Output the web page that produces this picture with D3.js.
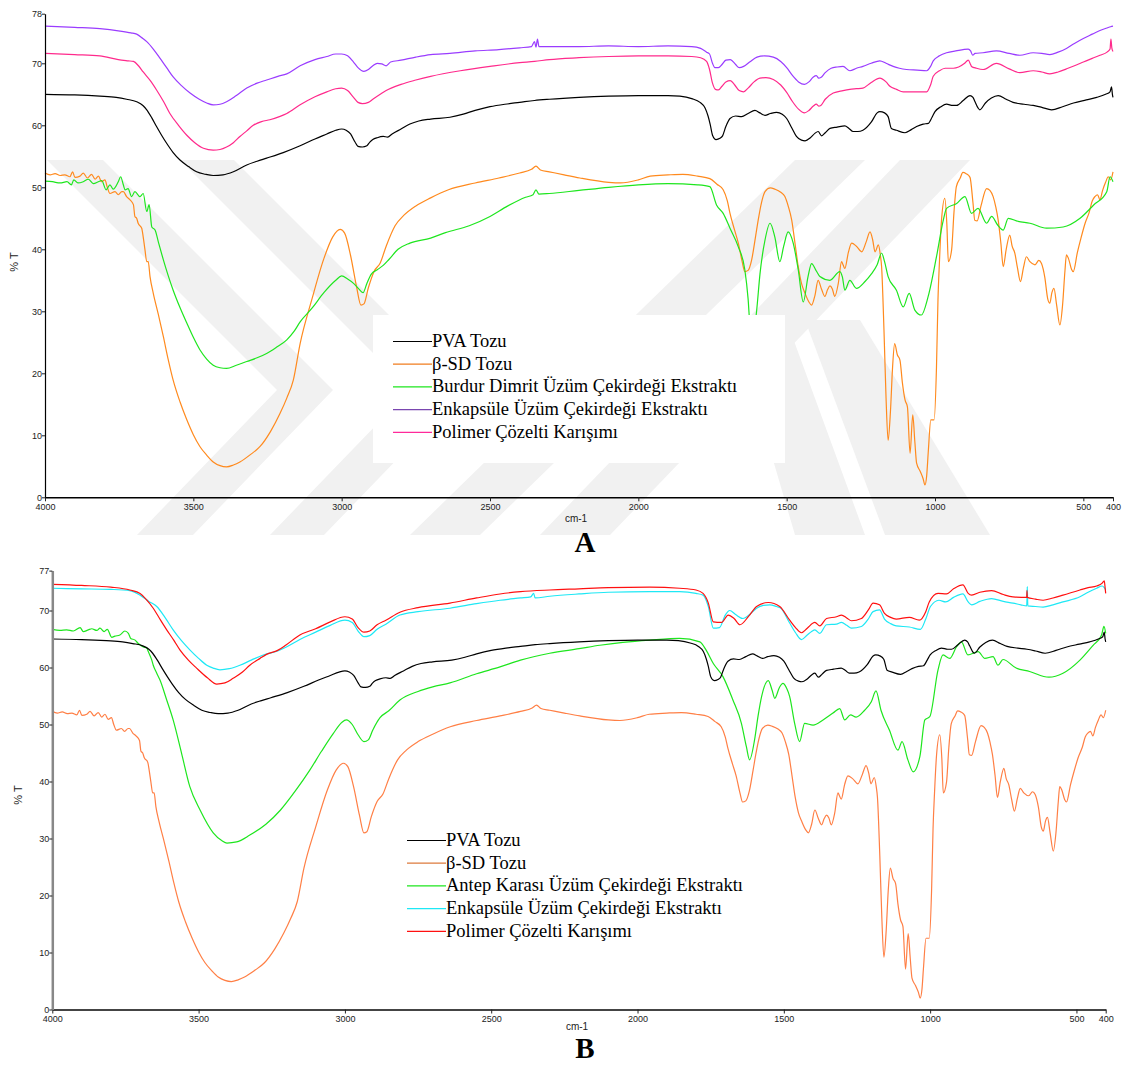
<!DOCTYPE html>
<html>
<head>
<meta charset="utf-8">
<script src="https://cdn.jsdelivr.net/npm/d3@7"></script>
<style>
  body { margin: 0; background: #fff; }
</style>
</head>
<body>
<svg id="chart" width="1125" height="1066"></svg>
<script>
// ---- data: [wavenumber cm-1, %T] ----
const wavenumberTicks = [4000, 3500, 3000, 2500, 2000, 1500, 1000, 500, 400];
const yTicksA = [0, 10, 20, 30, 40, 50, 60, 70, 78];
const yTicksB = [0, 10, 20, 30, 40, 50, 60, 70, 77];

const legendA = ["PVA Tozu", "β-SD Tozu", "Burdur Dimrit Üzüm Çekirdeği Ekstraktı", "Enkapsüle Üzüm Çekirdeği Ekstraktı", "Polimer Çözelti Karışımı"];
const legendB = ["PVA Tozu", "β-SD Tozu", "Antep Karası Üzüm Çekirdeği Ekstraktı", "Enkapsüle Üzüm Çekirdeği Ekstraktı", "Polimer Çözelti Karışımı"];

const pvaTozu = [[4000,65.0],[3900,64.9],[3815,64.7],[3760,64.5],[3725,64.2],[3691,63.8],[3670,63.2],[3657,62.5],[3640,61.2],[3624,59.8],[3607,58.4],[3590,57.1],[3568,55.6],[3545,54.4],[3515,53.3],[3489,52.5],[3460,52.1],[3433,51.9],[3400,52.0],[3365,52.5],[3320,53.6],[3285,54.2],[3253,54.7],[3197,55.6],[3140,56.7],[3090,57.8],[3050,58.6],[3020,59.2],[3000,59.4],[2985,59.2],[2970,58.6],[2955,57.3],[2945,56.6],[2930,56.5],[2915,56.7],[2905,57.3],[2895,57.7],[2880,58.0],[2860,58.2],[2845,58.1],[2830,58.6],[2800,59.4],[2770,60.2],[2740,60.7],[2700,61.0],[2635,61.3],[2590,61.8],[2550,62.4],[2500,63.0],[2450,63.4],[2400,63.7],[2350,64.0],[2300,64.2],[2200,64.5],[2100,64.7],[2000,64.8],[1900,64.8],[1860,64.7],[1820,64.3],[1792,63.7],[1775,62.8],[1765,61.5],[1758,60.2],[1750,58.4],[1738,57.7],[1725,57.9],[1716,58.3],[1705,59.8],[1691,61.1],[1672,61.5],[1652,61.4],[1630,61.9],[1607,62.4],[1590,62.0],[1573,61.6],[1555,61.9],[1534,62.1],[1515,61.8],[1500,61.1],[1483,59.6],[1467,58.2],[1450,57.6],[1438,57.5],[1420,58.0],[1405,58.7],[1394,59.0],[1382,58.3],[1370,58.8],[1354,59.5],[1330,59.7],[1304,59.9],[1290,59.5],[1276,59.0],[1260,59.0],[1243,59.2],[1215,60.5],[1195,62.0],[1186,62.2],[1170,62.0],[1158,61.4],[1147,59.5],[1130,59.2],[1101,58.8],[1080,59.3],[1062,59.8],[1040,60.2],[1023,60.3],[1010,61.3],[1000,62.2],[980,63.0],[961,63.4],[940,63.2],[927,63.2],[905,64.0],[882,64.8],[872,64.5],[865,63.8],[855,62.8],[849,62.5],[830,63.6],[810,64.4],[787,64.8],[760,64.2],[737,63.7],[700,63.4],[669,63.2],[640,62.9],[607,62.5],[570,63.0],[533,63.6],[490,64.1],[455,64.5],[425,65.0],[410,65.4],[405,66.2],[402,65.0],[400,64.5]];

const betaSdTozu = [[4000,52.3],[3983,52.0],[3966,52.2],[3949,51.9],[3933,52.0],[3916,51.7],[3907,52.5],[3899,51.6],[3882,51.8],[3871,52.3],[3857,51.5],[3843,52.1],[3831,51.3],[3820,51.8],[3809,50.9],[3798,51.2],[3790,50.0],[3781,49.0],[3764,49.3],[3753,48.8],[3741,49.3],[3736,49.3],[3725,48.5],[3714,48.0],[3702,47.2],[3697,45.3],[3691,45.0],[3686,44.2],[3674,43.4],[3669,42.0],[3663,39.9],[3657,38.0],[3652,38.0],[3646,35.6],[3635,32.9],[3618,29.5],[3601,25.9],[3585,22.3],[3568,18.9],[3545,15.4],[3522,12.5],[3500,10.1],[3478,8.2],[3455,6.8],[3433,5.7],[3410,5.1],[3388,4.9],[3365,5.2],[3343,5.7],[3310,6.8],[3275,8.2],[3240,10.6],[3208,13.5],[3185,16.0],[3163,18.9],[3140,24.8],[3100,32.0],[3060,38.5],[3030,42.0],[3005,43.2],[2990,42.6],[2970,39.0],[2950,34.0],[2935,31.0],[2925,31.2],[2910,33.8],[2890,36.5],[2870,37.8],[2850,40.5],[2820,43.8],[2790,45.5],[2750,47.0],[2700,48.3],[2640,49.6],[2550,50.7],[2470,51.5],[2400,52.3],[2360,52.9],[2345,53.4],[2330,52.8],[2300,52.5],[2250,52.0],[2197,51.5],[2100,50.8],[2060,50.7],[2000,51.2],[1960,51.8],[1900,52.0],[1850,52.1],[1800,51.8],[1759,51.4],[1735,50.5],[1714,49.6],[1700,47.8],[1691,45.8],[1675,43.0],[1663,41.0],[1650,38.0],[1641,36.4],[1630,36.6],[1618,38.3],[1605,42.0],[1596,44.7],[1585,47.5],[1573,49.3],[1555,49.9],[1540,49.7],[1520,49.2],[1506,48.5],[1495,47.0],[1483,44.7],[1472,41.0],[1461,37.2],[1450,34.5],[1438,32.9],[1425,31.5],[1416,31.0],[1405,32.5],[1394,35.0],[1382,33.5],[1371,32.4],[1362,33.5],[1354,34.1],[1346,33.6],[1338,32.4],[1326,34.5],[1315,38.0],[1310,37.5],[1304,36.9],[1292,39.5],[1281,41.0],[1265,40.5],[1247,39.6],[1232,41.2],[1219,42.8],[1210,41.5],[1202,39.6],[1191,40.7],[1184,39.0],[1180,37.2],[1172,27.0],[1165,16.0],[1158,9.2],[1150,14.0],[1143,21.0],[1136,24.8],[1127,23.0],[1118,22.1],[1110,18.5],[1101,15.7],[1093,14.6],[1084,7.1],[1075,13.3],[1068,9.0],[1062,5.5],[1050,4.2],[1040,3.0],[1034,2.0],[1028,3.5],[1023,7.1],[1014,12.5],[1003,12.5],[995,21.0],[990,31.8],[985,38.0],[978,44.7],[967,48.2],[960,44.0],[955,38.0],[944,39.9],[936,46.0],[928,50.1],[915,51.5],[906,52.4],[895,52.2],[882,51.6],[872,47.5],[866,44.7],[858,44.6],[845,47.0],[826,49.8],[815,49.5],[804,48.5],[795,46.8],[787,44.7],[778,41.0],[770,37.2],[760,40.0],[748,42.3],[740,40.5],[731,39.4],[722,37.0],[712,34.8],[702,37.0],[692,38.8],[680,38.0],[663,37.5],[650,38.2],[641,37.7],[630,35.5],[620,32.0],[613,31.3],[606,33.0],[599,33.7],[590,31.0],[579,27.8],[570,31.0],[562,36.5],[557,39.1],[550,38.5],[540,36.8],[534,36.4],[520,39.5],[508,41.8],[494,44.2],[480,46.0],[470,47.8],[461,48.5],[452,48.8],[444,48.0],[435,49.5],[425,50.8],[416,51.7],[408,51.2],[400,52.5]];

const burdurEkstrakt = [[4000,51.0],[3975,50.9],[3949,50.7],[3926,50.9],[3911,50.4],[3903,51.2],[3889,50.7],[3871,50.9],[3854,51.3],[3837,50.6],[3820,50.9],[3809,51.1],[3794,49.6],[3781,50.4],[3770,49.7],[3753,50.9],[3745,51.7],[3736,50.4],[3730,49.6],[3720,49.8],[3708,48.5],[3697,49.3],[3680,48.5],[3669,49.0],[3657,46.1],[3649,47.2],[3640,43.6],[3629,43.1],[3618,41.2],[3601,38.3],[3585,35.8],[3568,33.4],[3545,30.6],[3522,28.1],[3500,25.8],[3478,23.8],[3455,22.3],[3433,21.3],[3410,20.9],[3388,20.8],[3355,21.3],[3320,21.9],[3285,22.5],[3253,23.2],[3220,24.2],[3185,25.4],[3160,26.8],[3140,28.3],[3100,30.5],[3060,33.0],[3020,35.0],[3000,35.7],[2980,35.2],[2960,34.5],[2940,33.5],[2928,33.0],[2915,34.5],[2900,36.0],[2880,36.7],[2860,37.4],[2840,38.4],[2810,40.0],[2770,41.0],[2700,41.8],[2650,42.7],[2570,43.8],[2500,45.3],[2440,47.0],[2380,48.4],[2355,48.8],[2345,49.6],[2335,48.9],[2300,49.0],[2200,49.5],[2100,50.0],[2000,50.4],[1900,50.6],[1800,50.4],[1759,50.1],[1736,47.1],[1714,45.8],[1691,43.4],[1663,40.4],[1641,36.7],[1630,32.0],[1624,28.0],[1615,26.5],[1605,28.5],[1601,30.2],[1590,36.0],[1573,41.5],[1556,44.2],[1540,42.0],[1523,38.0],[1510,40.5],[1495,42.8],[1478,41.0],[1461,36.7],[1444,31.5],[1428,35.6],[1416,37.7],[1400,36.5],[1388,35.6],[1354,35.0],[1321,36.4],[1312,35.5],[1304,33.4],[1287,35.0],[1265,33.7],[1236,34.8],[1215,36.0],[1195,37.5],[1180,39.4],[1170,38.0],[1158,35.6],[1130,33.4],[1107,30.7],[1087,32.9],[1068,30.2],[1046,29.4],[1023,32.4],[995,38.8],[972,44.7],[961,46.6],[927,47.4],[899,48.5],[877,45.8],[855,46.6],[826,44.2],[809,45.3],[790,44.0],[770,43.1],[753,45.0],[720,44.5],[680,44.2],[624,43.4],[568,43.6],[511,45.0],[466,47.1],[421,49.3],[410,51.7],[400,50.9]];

const enkapsuleA = [[4000,76.0],[3900,75.8],[3815,75.6],[3747,75.2],[3710,74.9],[3691,74.7],[3670,74.0],[3657,73.5],[3635,72.3],[3612,70.8],[3590,69.3],[3568,67.8],[3540,66.4],[3511,65.2],[3480,64.2],[3455,63.6],[3433,63.3],[3410,63.4],[3388,63.8],[3355,64.8],[3320,66.0],[3285,66.8],[3253,67.3],[3215,67.9],[3185,68.3],[3140,69.6],[3090,70.6],[3050,71.1],[3020,71.5],[3000,71.5],[2980,71.2],[2960,70.2],[2945,69.3],[2925,68.7],[2910,69.0],[2895,69.6],[2880,70.0],[2865,69.9],[2850,69.6],[2835,70.2],[2800,70.5],[2750,71.0],[2700,71.4],[2635,71.6],[2550,72.0],[2470,72.2],[2400,72.5],[2360,72.7],[2350,73.5],[2345,72.6],[2340,73.9],[2335,72.7],[2300,72.7],[2200,72.7],[2100,72.8],[2000,72.7],[1900,72.8],[1820,72.7],[1790,72.4],[1770,71.8],[1760,71.5],[1750,70.0],[1742,69.3],[1730,69.3],[1718,69.8],[1705,70.5],[1690,70.6],[1672,69.8],[1660,69.3],[1645,69.5],[1625,70.2],[1600,71.0],[1575,71.2],[1545,71.0],[1520,70.3],[1500,69.3],[1480,68.0],[1460,67.0],[1440,66.6],[1425,67.0],[1410,67.8],[1400,68.0],[1392,67.6],[1385,67.7],[1370,68.5],[1350,69.2],[1330,69.4],[1310,69.5],[1287,68.8],[1265,69.2],[1243,69.5],[1215,70.0],[1186,70.4],[1165,70.0],[1141,69.5],[1120,69.2],[1096,69.0],[1060,68.9],[1028,68.8],[1015,69.5],[1006,70.4],[985,71.2],[961,71.7],[930,72.0],[888,72.3],[880,72.0],[873,71.3],[865,71.6],[838,71.7],[793,72.0],[750,71.6],[714,71.3],[669,71.7],[640,71.6],[613,71.4],[585,71.8],[557,72.4],[530,73.2],[500,74.0],[470,74.7],[444,75.3],[420,75.7],[408,75.9],[400,76.0]];

const polimerA = [[4000,71.6],[3900,71.4],[3815,71.2],[3753,70.6],[3720,70.4],[3702,70.3],[3685,69.6],[3669,68.6],[3645,67.2],[3624,65.7],[3600,63.8],[3579,61.9],[3550,60.0],[3522,58.4],[3495,57.2],[3466,56.3],[3433,56.0],[3410,56.1],[3388,56.5],[3365,57.2],[3343,58.2],[3320,59.1],[3298,60.0],[3270,60.6],[3242,60.9],[3210,61.4],[3185,61.9],[3140,63.3],[3090,64.6],[3050,65.4],[3020,65.9],[3000,66.0],[2980,65.6],[2960,64.5],[2945,63.7],[2930,63.5],[2910,63.7],[2895,64.2],[2870,65.0],[2850,65.6],[2800,66.6],[2750,67.3],[2700,67.9],[2600,68.8],[2500,69.5],[2400,70.1],[2350,70.3],[2300,70.6],[2200,70.9],[2100,71.1],[2000,71.2],[1900,71.2],[1820,71.1],[1790,70.9],[1770,70.3],[1760,69.0],[1750,66.8],[1740,65.8],[1730,65.7],[1718,66.3],[1705,67.0],[1690,67.2],[1675,66.5],[1660,65.6],[1645,65.4],[1630,66.0],[1610,67.0],[1590,67.6],[1570,67.7],[1545,67.4],[1520,66.5],[1500,65.3],[1480,63.8],[1460,62.6],[1440,62.0],[1425,62.4],[1410,63.1],[1400,63.4],[1392,63.1],[1385,63.2],[1370,64.2],[1343,65.2],[1310,65.6],[1287,65.8],[1265,65.9],[1243,66.0],[1215,66.9],[1186,67.6],[1165,67.0],[1152,66.3],[1130,65.8],[1107,65.4],[1062,65.4],[1028,65.4],[1015,66.5],[1006,67.9],[985,68.8],[966,69.2],[938,69.2],[900,70.0],[888,70.5],[880,69.8],[877,69.5],[860,69.2],[838,69.0],[793,70.0],[750,69.1],[714,68.5],[669,68.8],[640,68.6],[613,68.3],[585,68.6],[557,69.1],[530,69.6],[500,70.2],[470,70.8],[444,71.3],[420,71.8],[410,72.3],[407,73.9],[404,72.5],[400,71.9]];

const antepEkstrakt = [[4000,66.7],[3974,66.5],[3951,66.6],[3928,66.4],[3905,67.0],[3894,66.3],[3877,66.6],[3865,66.8],[3848,66.5],[3837,66.9],[3823,66.3],[3812,66.7],[3797,65.3],[3786,65.5],[3769,65.7],[3752,66.4],[3740,66.0],[3732,65.1],[3717,64.8],[3706,64.2],[3689,63.6],[3677,63.4],[3672,62.8],[3660,61.3],[3655,60.4],[3643,59.0],[3632,57.8],[3609,54.3],[3587,50.8],[3558,44.9],[3530,39.1],[3495,35.0],[3450,31.0],[3420,29.6],[3403,29.2],[3370,29.4],[3325,30.6],[3270,32.5],[3220,35.0],[3170,38.3],[3120,42.0],[3080,45.3],[3040,48.4],[3010,50.4],[2995,50.8],[2975,50.0],[2955,48.2],[2935,47.0],[2920,47.3],[2905,49.0],[2880,51.2],[2850,52.4],[2812,54.3],[2750,55.8],[2700,56.6],[2641,57.3],[2550,58.9],[2470,60.1],[2400,61.3],[2300,62.5],[2200,63.3],[2129,63.9],[2050,64.4],[1958,64.8],[1856,65.1],[1787,64.5],[1765,63.0],[1741,60.7],[1708,58.4],[1674,54.3],[1645,50.2],[1628,46.1],[1617,43.8],[1600,47.3],[1588,51.5],[1576,54.9],[1553,57.7],[1540,56.0],[1531,54.6],[1515,56.5],[1503,57.2],[1490,56.3],[1480,54.9],[1463,50.2],[1446,47.0],[1429,50.2],[1400,49.9],[1366,50.8],[1332,52.0],[1309,52.8],[1292,50.8],[1272,51.7],[1253,51.3],[1224,52.5],[1201,54.0],[1185,55.9],[1168,52.5],[1139,49.0],[1110,45.5],[1096,47.0],[1076,43.8],[1058,41.7],[1035,44.4],[1018,50.8],[1001,51.4],[973,59.6],[956,62.2],[933,61.6],[910,63.6],[893,64.5],[871,62.2],[836,62.8],[813,61.6],[785,61.9],[768,60.4],[751,61.4],[706,59.9],[660,59.3],[594,58.3],[546,59.0],[488,61.3],[443,63.9],[414,65.7],[406,67.2],[400,66.0]];

const enkapsuleB = [[4000,73.9],[3900,73.8],[3800,73.7],[3735,73.5],[3700,72.7],[3670,71.6],[3643,70.7],[3615,68.8],[3587,66.6],[3560,64.8],[3530,63.1],[3500,61.6],[3472,60.4],[3450,59.9],[3427,59.6],[3395,59.8],[3359,60.4],[3320,61.3],[3279,62.2],[3230,62.9],[3200,63.6],[3154,64.9],[3100,66.2],[3050,67.4],[3000,68.3],[2975,67.9],[2955,66.4],[2935,65.4],[2915,65.6],[2890,66.7],[2860,67.6],[2812,69.2],[2750,69.8],[2641,70.4],[2550,71.2],[2470,71.8],[2400,72.2],[2365,72.4],[2355,73.0],[2350,72.2],[2300,72.5],[2200,72.9],[2100,73.2],[1958,73.3],[1856,73.3],[1800,73.0],[1776,72.7],[1758,70.7],[1741,66.9],[1720,67.0],[1700,69.2],[1685,70.0],[1665,69.3],[1640,68.6],[1615,69.4],[1593,70.4],[1570,70.9],[1548,71.0],[1525,70.7],[1510,70.4],[1480,67.8],[1460,66.1],[1440,64.9],[1420,65.7],[1405,66.3],[1394,66.6],[1377,66.0],[1354,67.5],[1320,67.6],[1303,67.9],[1285,67.4],[1269,66.9],[1235,67.2],[1210,68.6],[1195,69.8],[1173,70.1],[1156,68.5],[1135,67.7],[1116,67.3],[1071,67.1],[1033,66.7],[1015,68.5],[999,70.7],[970,71.8],[947,71.5],[920,72.3],[888,72.9],[870,71.5],[858,71.0],[830,71.6],[790,72.1],[750,71.6],[717,71.3],[690,71.0],[670,70.8],[669,72.0],[668,74.2],[667,72.0],[666,70.8],[640,70.7],[614,70.6],[580,71.0],[546,71.5],[488,72.4],[460,73.2],[431,73.9],[412,74.3],[405,74.0],[400,73.6]];

const polimerB = [[4000,74.6],[3900,74.4],[3800,74.1],[3735,73.6],[3700,73.0],[3680,72.0],[3655,70.4],[3630,68.3],[3609,66.6],[3585,64.8],[3564,63.1],[3535,61.3],[3507,59.9],[3470,58.2],[3438,57.1],[3410,57.3],[3382,58.1],[3350,59.2],[3325,60.4],[3290,61.6],[3268,62.3],[3230,63.0],[3200,64.0],[3154,65.7],[3100,66.8],[3050,68.0],[3000,68.9],[2975,68.5],[2955,67.0],[2935,66.2],[2915,66.4],[2890,67.5],[2860,68.3],[2812,69.7],[2750,70.5],[2641,71.3],[2550,72.2],[2470,72.9],[2400,73.3],[2300,73.6],[2200,73.8],[2100,74.0],[1958,74.1],[1856,73.9],[1800,73.6],[1776,73.0],[1758,71.3],[1741,68.0],[1713,67.9],[1690,69.2],[1670,68.6],[1650,67.5],[1620,69.0],[1593,70.7],[1553,71.4],[1514,70.7],[1480,68.3],[1460,67.0],[1440,66.1],[1420,66.9],[1394,67.9],[1377,67.3],[1354,68.6],[1320,68.9],[1303,69.2],[1285,68.7],[1269,68.2],[1235,68.6],[1210,70.2],[1195,71.3],[1173,71.0],[1156,69.5],[1135,68.8],[1116,68.5],[1071,68.8],[1037,68.3],[1015,69.8],[1003,71.5],[973,73.0],[944,72.9],[920,73.8],[888,74.5],[870,73.0],[858,72.7],[830,73.2],[790,73.5],[750,72.8],[717,72.4],[670,72.3],[669,73.5],[668,72.3],[640,72.0],[614,71.8],[580,72.2],[546,72.7],[488,73.6],[460,74.0],[431,74.3],[412,74.8],[405,75.2],[402,74.0],[400,73.0]];

// light grey thesis watermark behind panel A (decoration only)
const watermarkBands = [
  [[47,160],[103,160],[333,390],[193,535],[137,535],[277,390]],
  [[180,160],[234,160],[464,390],[324,535],[270,535],[410,390]],
  [[795,160],[865,160],[480,535],[410,535]],
  [[900,160],[970,160],[610,535],[540,535]],
  [[735,330],[790,330],[865,535],[795,535]],
  [[805,320],[860,320],[990,535],[885,535]]
];

// ---- drawing ----
const svg = d3.select("#chart");
const sans = "'Liberation Sans', Arial, sans-serif";
const serif = "'Liberation Serif', 'Times New Roman', serif";

svg.append("g").selectAll("polygon")
  .data(watermarkBands)
  .enter().append("polygon")
  .attr("points", d => d.map(p => p.join(",")).join(" "))
  .attr("fill", "#f1f1f1");

function drawPanel(p) {
  const x = d3.scaleLinear().domain([4000, 400]).range([p.left, p.right]);
  const y = d3.scaleLinear().domain([0, p.yMax]).range([p.bottom, p.top]);
  const g = svg.append("g");

  const line = d3.line()
    .x(d => x(d[0]))
    .y(d => y(d[1]))
    .curve(d3.curveMonotoneX);

  p.series.forEach(s => {
    g.append("path")
      .attr("d", line(s.values))
      .attr("fill", "none")
      .attr("stroke", s.color)
      .attr("stroke-width", 1.2)
      .attr("stroke-linejoin", "round");
  });

  // x axis
  const xAxis = g.append("g")
    .attr("transform", `translate(0,${p.bottom})`)
    .call(d3.axisBottom(x).tickValues(wavenumberTicks).tickSize(4).tickSizeOuter(0).tickFormat(d3.format("d")));
  xAxis.select(".domain").attr("stroke", p.axisColor).attr("stroke-width", p.axisWidth);
  xAxis.selectAll(".tick line").attr("stroke", "#222");
  xAxis.selectAll("text").style("font-family", sans).attr("font-size", 9).attr("fill", "#222").attr("dy", "0.6em");

  // y axis
  const yAxis = g.append("g")
    .attr("transform", `translate(${p.left},0)`)
    .call(d3.axisLeft(y).tickValues(p.yTicks).tickSize(3).tickSizeOuter(0));
  yAxis.select(".domain").attr("stroke", p.yAxisColor).attr("stroke-width", p.yAxisWidth);
  yAxis.selectAll(".tick line").attr("stroke", "#222");
  yAxis.selectAll("text").style("font-family", sans).attr("font-size", 9).attr("fill", "#222").attr("x", -3);

  g.append("text")
    .attr("x", p.cmX)
    .attr("y", p.bottom + p.cmDy)
    .attr("text-anchor", "middle")
    .style("font-family", sans)
    .attr("font-size", 10)
    .attr("fill", "#222")
    .text("cm-1");

  g.append("text")
    .attr("transform", `translate(${p.yLabelX},${p.yLabelY}) rotate(-90)`)
    .attr("text-anchor", "middle")
    .style("font-family", sans)
    .attr("font-size", 11)
    .attr("fill", "#222")
    .text("% T");

  // legend
  const lg = g.append("g");
  if (p.legendBox) {
    lg.append("rect")
      .attr("x", p.legendBox[0]).attr("y", p.legendBox[1])
      .attr("width", p.legendBox[2]).attr("height", p.legendBox[3])
      .attr("fill", "#fff");
  }
  p.legend.forEach((name, i) => {
    const ly = p.legendY + i * 22.7;
    lg.append("line")
      .attr("x1", p.legendX).attr("x2", p.legendX + 39)
      .attr("y1", ly).attr("y2", ly)
      .attr("stroke", p.legendColors[i]).attr("stroke-width", 1.2);
    lg.append("text")
      .attr("x", p.legendX + 39)
      .attr("y", ly + 5.5)
      .style("font-family", serif)
      .attr("font-size", 18.5)
      .attr("fill", "#000")
      .text(name);
  });

  // panel letter
  g.append("text")
    .attr("transform", `translate(585,${p.letterY}) scale(1,1.05)`)
    .attr("text-anchor", "middle")
    .style("font-family", serif)
    .attr("font-weight", "bold")
    .attr("font-size", 29)
    .attr("fill", "#000")
    .text(p.letter);
}

drawPanel({
  left: 45, right: 1113, top: 13.7, bottom: 497.3, yMax: 78, yTicks: yTicksA,
  axisColor: "#000", axisWidth: 1.5, yAxisColor: "#000", yAxisWidth: 1.2,
  yLabelX: 18, yLabelY: 262, cmX: 576, cmDy: 25,
  series: [
    { values: betaSdTozu, color: "#ff8a1e" },
    { values: burdurEkstrakt, color: "#1ee61e" },
    { values: pvaTozu, color: "#000" },
    { values: polimerA, color: "#ff2a8c" },
    { values: enkapsuleA, color: "#9a3cff" }
  ],
  legend: legendA,
  legendColors: ["#000", "#f07d1e", "#1ee61e", "#7a46b0", "#ff2a9a"],
  legendBox: [373, 315, 412, 148],
  legendX: 393, legendY: 341.5,
  letter: "A", letterY: 552
});

drawPanel({
  left: 52.3, right: 1105.7, top: 570.6, bottom: 1009.5, yMax: 77, yTicks: yTicksB,
  axisColor: "#444", axisWidth: 2.2, yAxisColor: "#888", yAxisWidth: 2.5,
  yLabelX: 22, yLabelY: 795, cmX: 577, cmDy: 20,
  series: [
    { values: betaSdTozu, color: "#ff7f45" },
    { values: antepEkstrakt, color: "#1ee61e" },
    { values: pvaTozu, color: "#000" },
    { values: enkapsuleB, color: "#1ee8f5" },
    { values: polimerB, color: "#ff1010" }
  ],
  legend: legendB,
  legendColors: ["#000", "#dd7a3c", "#1ee61e", "#1ee8f5", "#ff1010"],
  legendBox: null,
  legendX: 407, legendY: 840.5,
  letter: "B", letterY: 1058
});
</script>
</body>
</html>
